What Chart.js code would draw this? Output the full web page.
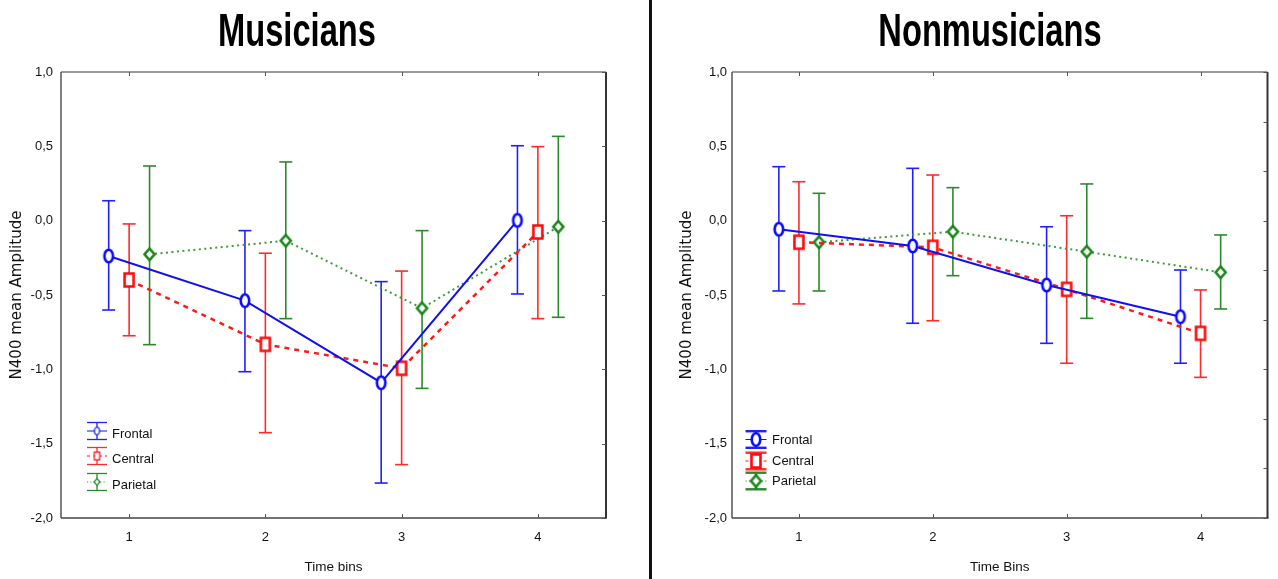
<!DOCTYPE html>
<html>
<head>
<meta charset="utf-8">
<script src="https://cdn.jsdelivr.net/npm/chart.js@4/dist/chart.umd.min.js"></script>
<style>
  body { margin: 0; background: #fff; }
  #page { position: relative; width: 1278px; height: 579px; overflow: hidden; background: #fff; }
  canvas { position: absolute; top: 0; }
  #musChart { left: 0; }
  #nonChart { left: 652px; }
  .divider { position: absolute; left: 649px; top: 0; width: 3px; height: 579px; background: #111; }
  .title {
    position: absolute; top: 7px; width: 400px; text-align: center;
    font-family: "Liberation Sans", Arial, sans-serif;
    font-weight: bold; font-size: 46px; line-height: 46px; color: #000;
    transform: scaleX(0.71); z-index: 2;
  }
</style>
</head>
<body>
<div id="page">
  <canvas id="musChart" width="648" height="579"></canvas>
  <div class="divider"></div>
  <canvas id="nonChart" width="626" height="579"></canvas>
  <div class="title" style="left:97px">Musicians</div>
  <div class="title" style="left:790px">Nonmusicians</div>
</div>
<script>
const timeBins = [1, 2, 3, 4];
const binOffsets = [-0.15, 0, 0.15];
const regionNames = ["Frontal", "Central", "Parietal"];
const yTicks = [1.0, 0.5, 0.0, -0.5, -1.0, -1.5, -2.0];

// Musicians: means and error bar ends
const musFrontal = [-0.238, -0.538, -1.090, 0.002];
const musFrontalLow = [-0.601, -1.016, -1.765, -0.493];
const musFrontalHigh = [0.134, -0.067, -0.410, 0.504];
const musCentral = [-0.399, -0.832, -0.993, -0.076];
const musCentralLow = [-0.774, -1.426, -1.641, -0.659];
const musCentralHigh = [-0.022, -0.219, -0.339, 0.498];
const musParietal = [-0.226, -0.135, -0.589, -0.041];
const musParietalLow = [-0.834, -0.659, -1.128, -0.650];
const musParietalHigh = [0.368, 0.395, -0.067, 0.567];

// Nonmusicians
const nonFrontal = [-0.058, -0.170, -0.433, -0.646];
const nonFrontalLow = [-0.473, -0.690, -0.825, -0.959];
const nonFrontalHigh = [0.363, 0.352, -0.041, -0.332];
const nonCentral = [-0.145, -0.179, -0.462, -0.758];
const nonCentralLow = [-0.560, -0.673, -0.959, -1.054];
const nonCentralHigh = [0.262, 0.307, 0.033, -0.466];
const nonParietal = [-0.145, -0.074, -0.209, -0.347];
const nonParietalLow = [-0.473, -0.370, -0.657, -0.594];
const nonParietalHigh = [0.184, 0.222, 0.247, -0.096];

const SANS = "'Liberation Sans', Arial, sans-serif";

const styles = [
  { shape: "ellipse", color: "#0a0aff", bar: "#2020ff", line: "#1010f0", width: 2, dash: [], w: 8.5, h: 12.5 },
  { shape: "square", color: "#ff0a0a", bar: "#ff2a2a", line: "#ff1a1a", width: 2.5, dash: [5, 5], w: 9, h: 13 },
  { shape: "diamond", color: "#1a861a", bar: "#2a8a2a", line: "#3c9c3c", width: 2, dash: [2, 3.5], w: 10, h: 11.5 },
];

// hollow marker drawn on a small canvas, used as pointStyle
function marker(st, w, h, lw) {
  const c = document.createElement("canvas");
  c.width = Math.ceil(w + lw + 2);
  c.height = Math.ceil(h + lw + 2);
  const g = c.getContext("2d");
  g.translate(c.width / 2, c.height / 2);
  g.lineWidth = lw;
  g.strokeStyle = st.color;
  g.fillStyle = "#fff";
  g.beginPath();
  if (st.shape === "ellipse") g.ellipse(0, 0, w / 2, h / 2, 0, 0, Math.PI * 2);
  else if (st.shape === "square") g.rect(-w / 2, -h / 2, w, h);
  else {
    g.moveTo(0, -h / 2);
    g.lineTo(w / 2, 0);
    g.lineTo(0, h / 2);
    g.lineTo(-w / 2, 0);
    g.closePath();
  }
  g.fill();
  g.stroke();
  return c;
}

function seg(ctx, x1, y1, x2, y2) {
  ctx.beginPath();
  ctx.moveTo(x1, y1);
  ctx.lineTo(x2, y2);
  ctx.stroke();
}

// box frame with inward tick marks
const frame = {
  id: "frame",
  beforeDatasetsDraw(chart, args, o) {
    const { ctx, chartArea: a, scales: { x, y } } = chart;
    ctx.save();
    ctx.lineWidth = 1.5;
    ctx.strokeStyle = "#7a7a7a";
    seg(ctx, a.left, a.top, a.right, a.top);
    ctx.strokeStyle = "#555";
    seg(ctx, a.left, a.top, a.left, a.bottom);
    ctx.strokeStyle = "#444";
    seg(ctx, a.left, a.bottom, a.right + 1, a.bottom);
    ctx.lineWidth = 2;
    ctx.strokeStyle = "#333";
    seg(ctx, a.right, a.top, a.right, a.bottom);
    ctx.lineWidth = 1;
    ctx.strokeStyle = "#555";
    timeBins.forEach((v) => {
      const px = Math.round(x.getPixelForValue(v)) + 0.5;
      seg(ctx, px, a.top, px, a.top + 4);
      seg(ctx, px, a.bottom, px, a.bottom - 4);
    });
    for (let v = y.min; v <= y.max + 1e-6; v += o.rightStep) {
      const py = Math.round(y.getPixelForValue(v)) + 0.5;
      seg(ctx, a.right, py, a.right - 4, py);
    }
    ctx.restore();
  },
};

// vertical error bars with caps, behind lines and markers
const errorBars = {
  id: "errorBars",
  beforeDatasetsDraw(chart) {
    const { ctx, scales: { x, y } } = chart;
    chart.data.datasets.forEach((ds) => {
      ctx.save();
      ctx.strokeStyle = ds.barColor;
      ctx.lineWidth = 1.6;
      ds.data.forEach((pt, i) => {
        const px = x.getPixelForValue(pt.x);
        const top = y.getPixelForValue(ds.high[i]);
        const bot = y.getPixelForValue(ds.low[i]);
        seg(ctx, px, top, px, bot);
        seg(ctx, px - 6.5, top, px + 6.5, top);
        seg(ctx, px - 6.5, bot, px + 6.5, bot);
      });
      ctx.restore();
    });
  },
};

// legend with small error-bar glyphs inside the plot
const glyphLegend = {
  id: "glyphLegend",
  afterDatasetsDraw(chart, args, o) {
    const { ctx } = chart;
    chart.data.datasets.forEach((ds, k) => {
      const st = styles[k];
      const cy = o.rows[k];
      ctx.save();
      ctx.strokeStyle = st.bar;
      ctx.lineWidth = o.barWidth;
      seg(ctx, o.x, cy - o.cap, o.x, cy + o.cap);
      seg(ctx, o.x - o.half, cy - o.cap, o.x + o.half, cy - o.cap);
      seg(ctx, o.x - o.half, cy + o.cap, o.x + o.half, cy + o.cap);
      ctx.strokeStyle = st.line;
      ctx.lineWidth = 1;
      ctx.setLineDash(st.dash.map((d) => d * 0.6));
      seg(ctx, o.x - o.half, cy, o.x + o.half, cy);
      ctx.setLineDash([]);
      const m = marker(st, st.w * o.markScale, st.h * o.markScale, o.markLine);
      ctx.drawImage(m, o.x - m.width / 2, cy - m.height / 2);
      ctx.fillStyle = "#111";
      ctx.font = "13px " + SANS;
      ctx.textBaseline = "middle";
      ctx.fillText(ds.label, o.textX, cy + o.textShift);
      ctx.restore();
    });
  },
};

function buildChart(id, series, opts) {
  const datasets = series.map((s, k) => ({
    label: regionNames[k],
    data: timeBins.map((b, i) => ({ x: b + binOffsets[k], y: s.mean[i] })),
    low: s.low,
    high: s.high,
    barColor: styles[k].bar,
    borderColor: styles[k].line,
    borderWidth: styles[k].width,
    borderDash: styles[k].dash,
    pointStyle: marker(styles[k], styles[k].w, styles[k].h, 2.6),
    pointRadius: 8,
    pointHoverRadius: 8,
    tension: 0,
    fill: false,
  }));

  return new Chart(document.getElementById(id), {
    type: "line",
    data: { datasets },
    plugins: [frame, errorBars, glyphLegend],
    options: {
      responsive: false,
      animation: false,
      devicePixelRatio: 1,
      layout: { padding: { top: 72, right: opts.padRight, left: 0, bottom: 0 } },
      plugins: {
        legend: { display: false },
        tooltip: { enabled: false },
        frame: { rightStep: opts.rightStep },
        glyphLegend: opts.legend,
      },
      scales: {
        x: {
          type: "linear",
          min: 0.5,
          max: 4.5,
          afterBuildTicks: (s) => { s.ticks = timeBins.map((v) => ({ value: v })); },
          afterFit: (s) => { s.height = 61; },
          grid: { display: false, drawTicks: false },
          border: { display: false },
          ticks: { padding: 12, color: "#111", maxRotation: 0, font: { family: SANS, size: 13 }, callback: (v) => String(v) },
          title: { display: true, text: opts.xTitle, color: "#111", font: { family: SANS, size: 13.5 }, padding: { top: 0, bottom: 4 } },
        },
        y: {
          min: -2,
          max: 1,
          afterBuildTicks: (s) => { s.ticks = yTicks.map((v) => ({ value: v })); },
          afterFit: (s) => { s.width = opts.areaLeft; },
          grid: { display: false, drawTicks: false },
          border: { display: false },
          ticks: { padding: opts.tickPad, color: "#111", font: { family: SANS, size: 13 }, callback: (v) => v.toFixed(1).replace(".", ",") },
          title: { display: true, text: "N400 mean Amplitude", color: "#111", font: { family: "'DejaVu Sans', sans-serif", size: 15 }, padding: { top: opts.yTitlePad, bottom: 0 } },
        },
      },
    },
  });
}

buildChart(
  "musChart",
  [
    { mean: musFrontal, low: musFrontalLow, high: musFrontalHigh },
    { mean: musCentral, low: musCentralLow, high: musCentralHigh },
    { mean: musParietal, low: musParietalLow, high: musParietalHigh },
  ],
  {
    padRight: 42, areaLeft: 61, tickPad: 8, yTitlePad: 8, rightStep: 0.5, xTitle: "Time bins",
    legend: { x: 97, half: 10, cap: 8.5, rows: [431, 456, 482], textX: 112, textShift: 3, barWidth: 1.3, markScale: 0.6, markLine: 1.2 },
  }
);

buildChart(
  "nonChart",
  [
    { mean: nonFrontal, low: nonFrontalLow, high: nonFrontalHigh },
    { mean: nonCentral, low: nonCentralLow, high: nonCentralHigh },
    { mean: nonParietal, low: nonParietalLow, high: nonParietalHigh },
  ],
  {
    padRight: 2, areaLeft: 80, tickPad: 5, yTitlePad: 26, rightStep: 1 / 3, xTitle: "Time Bins",
    legend: { x: 104, half: 10.5, cap: 8.3, rows: [439.5, 461, 481], textX: 120, textShift: 0.5, barWidth: 2.4, markScale: 1, markLine: 2.6 },
  }
);
</script>
</body>
</html>
